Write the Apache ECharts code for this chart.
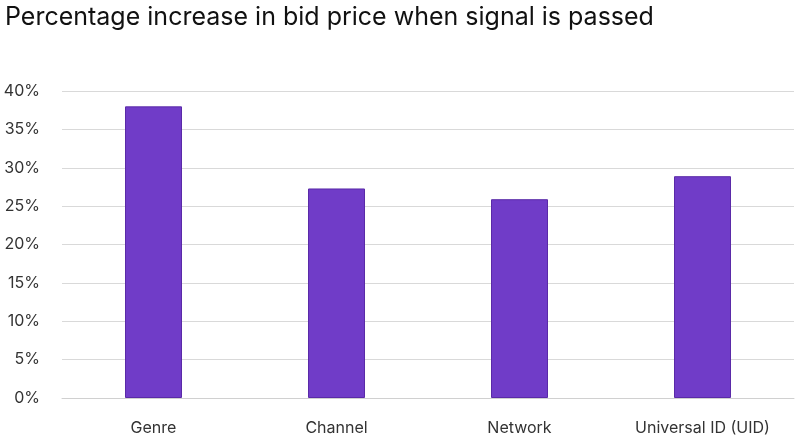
<!DOCTYPE html>
<html>
<head>
<meta charset="utf-8">
<script src="https://cdn.jsdelivr.net/npm/echarts@6/dist/echarts.min.js"></script>
<style>html,body{margin:0;background:#fff}#c{width:800px;height:444px}</style>
</head>
<body>
<div id="c"></div>
<script>
var categories = ['Genre', 'Channel', 'Network', 'Universal ID (UID)'];
var values = [38, 27.3, 25.9, 28.9];

var chart = echarts.init(document.getElementById('c'));
chart.setOption({
  animation: false,
  title: {
    text: 'Percentage increase in bid price when signal is passed',
    left: 0, top: 0,
    textStyle: { fontFamily: 'Inter', fontSize: 25, fontWeight: 'normal', color: '#111' }
  },
  grid: { left: 62, right: 6, top: 91, bottom: 46 },
  xAxis: {
    type: 'category',
    data: categories,
    axisLine: { lineStyle: { color: '#d0d0d0' } },
    axisTick: { show: false },
    axisLabel: { fontFamily: 'Inter', fontSize: 16, color: '#333', margin: 22 }
  },
  yAxis: {
    type: 'value',
    min: 0, max: 40, interval: 5,
    axisLabel: { formatter: '{value}%', fontFamily: 'Inter', fontSize: 16, color: '#333', margin: 22 },
    splitLine: { lineStyle: { color: '#d9d9d9' } }
  },
  series: [{
    type: 'bar',
    data: values,
    barWidth: 57,
    itemStyle: { color: '#703cc8', borderColor: '#5a2aa8', borderWidth: 1 }
  }]
});
</script>
</body>
</html>
